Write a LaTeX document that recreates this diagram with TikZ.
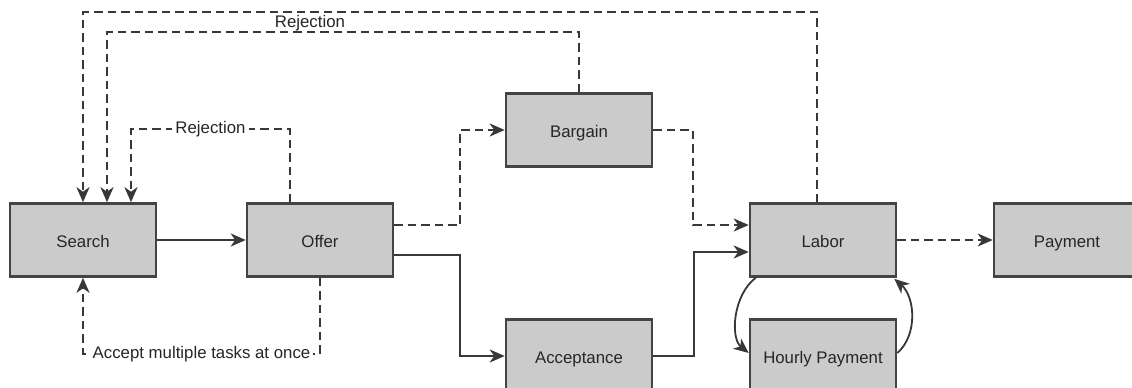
\documentclass[tikz,border=0pt]{standalone}
\usepackage{fontspec}
\setmainfont{Liberation Sans}
\usetikzlibrary{arrows.meta}
\definecolor{boxfill}{HTML}{CBCBCB}
\definecolor{boxline}{HTML}{444444}
\definecolor{lin}{HTML}{383838}
\definecolor{txt}{HTML}{262626}
\begin{document}
\begin{tikzpicture}[x=1pt,y=-1pt,
  box/.style={draw=boxline, fill=boxfill, line width=2.6pt, minimum width=146pt, minimum height=73pt, inner sep=0pt, text height=17pt, text depth=2.5pt, font=\fontsize{16.8}{19}\selectfont, text=txt},
  conn/.style={draw=lin, line width=2.2pt, -{Stealth[length=15pt,width=13pt,inset=4.5pt]}},
  dconn/.style={conn, dash pattern=on 8.5pt off 5pt},
  lbl/.style={fill=white, inner sep=3pt, font=\fontsize{16.8}{19}\selectfont, text=txt}]
\clip (0,0) rectangle (1132,388);
\fill[white] (0,0) rectangle (1132,388);
\node[box] (search) at (83,240) {Search};
\node[box] (offer) at (320,240) {Offer};
\node[box] (bargain) at (579,130) {Bargain};
\node[box] (acceptance) at (579,356) {Acceptance};
\node[box] (labor) at (823,240) {Labor};
\node[box] (payment) at (1067,240) {Payment};
\node[box] (hourly) at (823,356) {Hourly Payment};

\draw[conn] (search) -- (offer);
\draw[dconn] ([yshift=15pt]offer.east) -- ++(66,0) |- (bargain.west);
\draw[conn] ([yshift=-15pt]offer.east) -- ++(66,0) |- (acceptance.west);
\draw[dconn] (bargain.east) -- ++(40,0) |- ([yshift=15pt]labor.west);
\draw[conn] (acceptance.east) -- ++(41,0) |- ([yshift=-12pt]labor.west);
\draw[dconn] (labor) -- (payment);

\draw[conn, line width=1.8pt] ([xshift=7pt]labor.south west) .. controls (733,295) and (730,338) .. ([yshift=3pt]hourly.west);
\draw[conn, line width=1.8pt] ([yshift=3pt]hourly.east) .. controls (918,335) and (915,297) .. ([xshift=-3pt,yshift=-1pt]labor.south east);

\draw[dconn] (offer.south) -- ++(0,76) -| node[pos=0.25,lbl]{Accept multiple tasks at once} (search.south);
\draw[dconn] ([xshift=-30pt]offer.north) -- ++(0,-73) -| node[pos=0.25,lbl]{Rejection} ([xshift=48pt]search.north);
\draw[dconn] (bargain.north) -- ++(0,-60) -| node[pos=0.285,above,inner sep=0pt,font=\fontsize{16.8}{19}\selectfont,text=txt]{Rejection} ([xshift=24pt]search.north);
\draw[dconn] ([xshift=-6pt]labor.north) -- ++(0,-190) -| (search.north);
\end{tikzpicture}
\end{document}
